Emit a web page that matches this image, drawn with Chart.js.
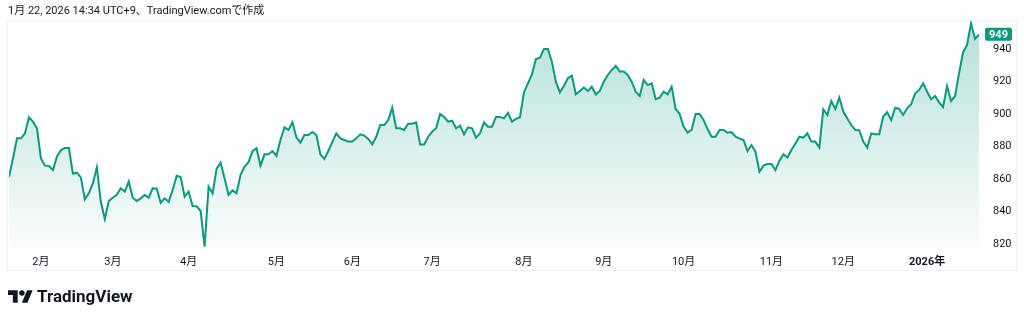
<!DOCTYPE html>
<html><head><meta charset="utf-8">
<script src="https://cdn.jsdelivr.net/npm/chart.js@4.4.1/dist/chart.umd.min.js"></script>
<style>
html,body{margin:0;padding:0;background:#fff;width:1024px;height:319px;overflow:hidden;font-family:Roboto,"Noto Sans CJK JP",sans-serif;}
#wrap{position:absolute;left:0;top:0;width:1024px;height:319px;}
#title{position:absolute;left:8px;top:3px;font-size:11px;color:#131722;line-height:16px;white-space:nowrap;}
#logo{position:absolute;left:8px;top:286px;height:20px;display:flex;align-items:center;}
#logo span{font-size:17px;font-weight:700;color:#131722;margin-left:4px;letter-spacing:0px;}
</style></head>
<body>
<div id="wrap"><canvas id="c"></canvas></div>
<div id="title">1月 22, 2026 14:34 UTC+9、TradingView.comで作成</div>
<div id="logo"><svg width="25" height="19" viewBox="0 2 36 22"><path fill="#131722" d="M14 22H7V11H0V4h14v18zM28 22h-8l7.5-18h8L28 22z"/><circle fill="#131722" cx="20" cy="8" r="4"/></svg><span>TradingView</span></div>
<script>
const prices = [
861.4,872.7,885,885,888.1,898,895.3,891.2,872.7,868.2,868,865.5,873.7,877.8,879,879,863.3,863.9,861,847.5,
851.2,857.3,867.2,846,835.4,846.5,848.5,850.2,854.3,852.2,858.4,848.5,846.5,848.1,850.2,848.5,854.3,854,845.4,848.1,
846,853.2,862,861.2,849.1,852.2,843.4,843.2,840.3,818.4,855.3,851.2,866.2,870,860.4,850.2,853,851.2,862.5,867.6,
870.3,877.2,878.9,868.2,875.2,875.2,877.2,874.2,884,891.8,890.2,894.9,885.6,882.4,887.1,887.1,888.9,887.1,875.2,872.3,
877.2,882.8,888.1,885,884,883,883,885,887.5,886.7,884.6,881.3,886,893.2,893.2,896.3,903.9,891.2,891.2,890.2,
894,894,894.9,881.3,881.3,886,889.1,891.2,900,898.2,895.3,895.9,891.2,892.8,887.5,891.8,891.2,885.4,888.1,894.9,
892.2,892.2,898.2,898.2,897.3,900.8,895.3,897,898,913.3,918.9,924.4,933.8,934.7,940,940,932.2,919.9,913.3,917.2,
922,923.6,912.1,914.2,916.3,914.2,916.8,912.1,914.2,919.9,924,927.1,929.7,926.1,926.1,924,919.9,913.7,911.1,920.9,
917.8,918.9,909.1,910.1,913.7,912.1,916.8,903.1,900,892.2,888.5,890.2,900,900,896.3,890.8,886,886,890.2,890.2,
888.5,888.9,886,885,884,877.2,880.9,876.8,864.5,868.2,869.2,869.2,865.5,871.3,875.2,873.3,877.8,881.9,886,885.4,
888.1,883,883,879.3,902.9,899.4,908,903.1,910.1,901.5,897.3,893.2,890.2,890,883,879.3,888.1,887.5,887.5,898.4,
901.1,896.3,903.9,903.1,899.4,903.5,906,912.7,914.8,918.9,913.7,909.1,911.1,907.2,904.3,917.2,908,911.1,925,937.9,
942.5,955.8,946.2,949
];
const monthLabels = ['2月','3月','4月','5月','6月','7月','8月','9月','10月','11月','12月','2026年'];
const monthIndex = [8,26,45,67,86,106,129,149,169,191,209,230];
const yTicks = [820,840,860,880,900,920,940];

const points = prices.map((v,i)=>({x:i,y:v}));
const lineColor = '#089981';

const frame = {
  id:'frame',
  beforeDraw(chart){
    const c = chart.ctx;
    c.save();
    c.strokeStyle = '#eef0f3';
    c.lineWidth = 1;
    c.strokeRect(7.5,20.5,1009,250);
    c.restore();
  }
};
const badge = {
  id:'badge',
  afterDraw(chart){
    const c = chart.ctx;
    const ys = chart.scales.y;
    const last = prices[prices.length-1];
    const y = ys.getPixelForValue(last);
    c.save();
    c.fillStyle = lineColor;
    const x0 = 985, w = 27, h = 13;
    c.beginPath();
    if (c.roundRect) c.roundRect(x0, y-h/2, w, h, 2); else c.rect(x0, y-h/2, w, h);
    c.fill();
    c.fillStyle = '#fff';
    c.font = 'bold 11px Roboto, "Noto Sans CJK JP", sans-serif';
    c.textAlign = 'center';
    c.textBaseline = 'middle';
    c.fillText(String(last), x0 + w/2, y+0.5);
    c.restore();
  }
};

new Chart(document.getElementById('c'), {
  type:'line',
  data:{datasets:[{
    data:points,
    borderColor:lineColor,
    borderWidth:2,
    pointRadius:0,
    tension:0,
    fill:'start',
    backgroundColor(ctx){
      const ca = ctx.chart.chartArea;
      if(!ca) return 'rgba(8,153,129,0.2)';
      const g = ctx.chart.ctx.createLinearGradient(0, ca.top, 0, ca.bottom);
      g.addColorStop(0,'rgba(8,153,129,0.30)');
      g.addColorStop(1,'rgba(8,153,129,0.02)');
      return g;
    }
  }]},
  options:{
    responsive:true, maintainAspectRatio:false, animation:false,
    layout:{padding:{left:9,top:21,right:0,bottom:0}},
    plugins:{legend:{display:false},tooltip:{enabled:false}},
    scales:{
      x:{
        type:'linear', min:0, max:prices.length-1,
        grid:{display:false,drawTicks:false}, border:{display:false},
        afterBuildTicks(s){ s.ticks = monthIndex.map(v=>({value:v})); },
        afterFit(s){ s.height = 70; },
        ticks:{
          autoSkip:false, maxRotation:0, padding:7, color:'#131722',
          font(ctx){ return {size:11, family:'Roboto, "Noto Sans CJK JP", sans-serif', weight: (ctx.tick && ctx.tick.value===monthIndex[monthIndex.length-1]) ? 'bold':'normal'}; },
          callback(v){ const k = monthIndex.indexOf(v); return k>=0 ? monthLabels[k] : ''; }
        }
      },
      y:{
        position:'right', min:816.92, max:957.23,
        grid:{display:false,drawTicks:false}, border:{display:false},
        afterBuildTicks(s){ s.ticks = yTicks.map(v=>({value:v})); },
        afterFit(s){ s.width = 45; },
        ticks:{padding:14, color:'#131722', font:{size:11, family:'Roboto, "Noto Sans CJK JP", sans-serif'}}
      }
    }
  },
  plugins:[frame,badge]
});
</script>
</body></html>
